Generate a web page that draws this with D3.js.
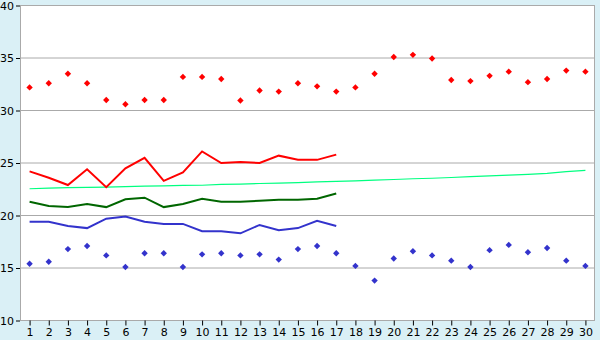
<!DOCTYPE html>
<html>
<head>
<meta charset="utf-8">
<script src="https://cdn.jsdelivr.net/npm/d3@7"></script>
<style>
    body { margin: 0; background: #daf0f6; }
    #chart { width: 600px; height: 340px; }
    .tick text { font-family: "DejaVu Sans", Verdana, sans-serif; font-size: 11px; fill: #000; }
</style>
</head>
<body>
<div id="chart"></div>
<script>
// day numbers on the x axis
const days = [1, 2, 3, 4, 5, 6, 7, 8, 9, 10, 11, 12, 13, 14, 15,
    16, 17, 18, 19, 20, 21, 22, 23, 24, 25, 26, 27, 28, 29, 30];
const yTicks = [10, 15, 20, 25, 30, 35, 40];

// daily highs / lows (markers)
const highs = [32.2, 32.6, 33.5, 32.6, 31.0, 30.6, 31.0, 31.0, 33.2, 33.2, 33.0, 30.95, 31.9, 31.8, 32.6,
    32.3, 31.8, 32.2, 33.5, 35.1, 35.3, 34.95, 32.9, 32.8, 33.3, 33.7, 32.7, 33.0, 33.8, 33.7];
const lows = [15.4, 15.6, 16.8, 17.1, 16.2, 15.1, 16.4, 16.4, 15.1, 16.3, 16.4, 16.2, 16.3, 15.8, 16.8,
    17.1, 16.4, 15.2, 13.8, 15.9, 16.6, 16.2, 15.7, 15.1, 16.7, 17.2, 16.5, 16.9, 15.7, 15.2];

// lines (first 17 days)
const redLine = [24.2, 23.6, 22.9, 24.4, 22.7, 24.5, 25.5, 23.3, 24.1, 26.1, 25.0, 25.1, 25.0, 25.7, 25.3, 25.3, 25.8];
const greenLine = [21.3, 20.9, 20.8, 21.1, 20.8, 21.55, 21.7, 20.8, 21.1, 21.6, 21.3, 21.3, 21.4, 21.5, 21.5, 21.6, 22.1];
const blueLine = [19.4, 19.4, 19.0, 18.8, 19.7, 19.9, 19.4, 19.2, 19.2, 18.5, 18.5, 18.3, 19.1, 18.6, 18.8, 19.5, 19.0];

// long-term line (all days)
const trendLine = [22.55, 22.6, 22.65, 22.68, 22.7, 22.75, 22.8, 22.83, 22.86, 22.88, 22.96, 22.99, 23.05, 23.09, 23.14,
    23.2, 23.25, 23.3, 23.36, 23.43, 23.5, 23.55, 23.62, 23.7, 23.77, 23.84, 23.92, 24.02, 24.18, 24.3];

let margin = {top: 5.5, right: 5, bottom: 19.5, left: 20};
let width = 600 - margin.left - margin.right;
let height = 340 - margin.top - margin.bottom;

let svg = d3.select("#chart").append("svg")
    .attr("width", 600)
    .attr("height", 340)
    .append("g")
    .attr("transform", "translate(" + margin.left + "," + margin.top + ")");

// scales
let x = d3.scalePoint().domain(days).range([0, width]).padding(0.5);
let y = d3.scaleLinear().domain([10, 40]).range([height, 0]);

// plot background
svg.append("rect")
    .attr("x", 0)
    .attr("y", 0)
    .attr("width", width)
    .attr("height", height)
    .attr("fill", "#fff");

// gridlines
svg.append("g")
    .selectAll("line")
    .data(yTicks.filter(d => d > 10))
    .join("line")
    .attr("x1", 0)
    .attr("x2", width)
    .attr("y1", d => y(d))
    .attr("y2", d => y(d))
    .attr("stroke", "#aaa")
    .attr("stroke-width", 1);

// right border
svg.append("line")
    .attr("x1", width - 0.5).attr("x2", width - 0.5)
    .attr("y1", 0).attr("y2", height)
    .attr("stroke", "#aaa");

// axes
let xAxis = svg.append("g")
    .attr("transform", "translate(0," + height + ")")
    .call(d3.axisBottom(x).tickSize(5).tickPadding(3));
xAxis.select(".domain").attr("stroke", "#aaa").attr("d", "M0,0H" + width);
xAxis.selectAll(".tick line").attr("stroke", "#000");

let yAxis = svg.append("g")
    .call(d3.axisLeft(y).tickValues(yTicks).tickSize(4).tickPadding(2));
yAxis.select(".domain").attr("stroke", "#aaa").attr("d", "M0.5," + height + "V0");
yAxis.selectAll(".tick line").attr("stroke", "#000");

// line generator
let line = d3.line()
    .x((d, i) => x(days[i]))
    .y(d => y(d));

svg.append("path")
    .datum(trendLine)
    .attr("d", line)
    .attr("fill", "none")
    .attr("stroke", "#00ff80")
    .attr("stroke-width", 1.2);

svg.append("path")
    .datum(greenLine)
    .attr("d", line)
    .attr("fill", "none")
    .attr("stroke", "#006600")
    .attr("stroke-width", 2);

svg.append("path")
    .datum(blueLine)
    .attr("d", line)
    .attr("fill", "none")
    .attr("stroke", "#3333cc")
    .attr("stroke-width", 2);

svg.append("path")
    .datum(redLine)
    .attr("d", line)
    .attr("fill", "none")
    .attr("stroke", "#ff0000")
    .attr("stroke-width", 2);

// markers
let marker = d3.symbol().type(d3.symbolDiamond2).size(26);

svg.append("g")
    .selectAll("path")
    .data(highs)
    .join("path")
    .attr("d", marker)
    .attr("transform", (d, i) => "translate(" + x(days[i]) + "," + y(d) + ")")
    .attr("fill", "#ff0000");

svg.append("g")
    .selectAll("path")
    .data(lows)
    .join("path")
    .attr("d", marker)
    .attr("transform", (d, i) => "translate(" + x(days[i]) + "," + y(d) + ")")
    .attr("fill", "#3333cc");
</script>
</body>
</html>
